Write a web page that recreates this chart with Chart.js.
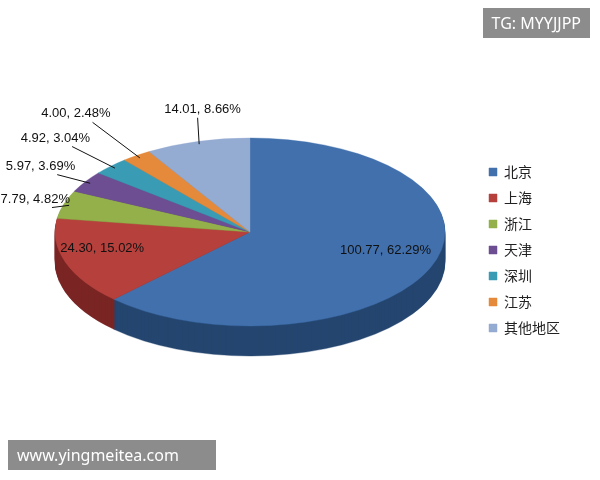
<!DOCTYPE html>
<html>
<head>
<meta charset="utf-8">
<script src="https://cdn.jsdelivr.net/npm/chart.js@4"></script>
<style>
  body { margin: 0; background: #fff; }
  #wrap { position: relative; width: 600px; height: 480px; }
  .mark { position: absolute; background: rgba(120,120,120,0.85); color: #fff;
          font-family: "Noto Sans", sans-serif; font-size: 16px; padding: 4px 9px; }
</style>
</head>
<body>
<div id="wrap">
  <canvas id="c" width="600" height="480"></canvas>
  <div class="mark" style="right:10px;top:8px;">TG: MYYJJPP</div>
  <div class="mark" style="left:8px;top:440px;width:190px;">www.yingmeitea.com</div>
</div>
<script>
const regions = ['北京', '上海', '浙江', '天津', '深圳', '江苏', '其他地区'];
const amounts = [100.77, 24.30, 7.79, 5.97, 4.92, 4.00, 14.01];
const shares = ['62.29%', '15.02%', '4.82%', '3.69%', '3.04%', '2.48%', '8.66%'];
const colors = ['#4170ad', '#b5403c', '#93b04b', '#6e4e92', '#3a9bb5', '#e5893a', '#94abd2'];
const sideColors = ['#24466f', '#7a2624', '#617a2c', '#47305f', '#236879', '#a65c1f', '#6179a0'];

// ellipse geometry of the tilted pie
const EX = 250, EY = 232, RX = 195, RY = 94, DEPTH = 30;

function setTransform(ctx, arc, dy) {
  const r = arc.outerRadius;
  ctx.translate(EX, EY + dy);
  ctx.scale(RX / r, RY / r);
  ctx.translate(-arc.x, -arc.y);
}

const tilt = {
  id: 'tilt',
  beforeDatasetsDraw(chart) {
    const ctx = chart.ctx;
    const arcs = chart.getDatasetMeta(0).data;
    for (let d = DEPTH; d >= 1; d--) {
      arcs.forEach((arc, i) => {
        const o = arc.options, bg = o.backgroundColor, bc = o.borderColor;
        o.backgroundColor = sideColors[i]; o.borderColor = sideColors[i];
        ctx.save();
        setTransform(ctx, arc, d);
        arc.draw(ctx);
        ctx.restore();
        o.backgroundColor = bg; o.borderColor = bc;
      });
    }
    ctx.save();
    setTransform(ctx, arcs[0], 0);
  },
  afterDatasetsDraw(chart) {
    chart.ctx.restore();
  },
  afterDraw(chart) {
    const ctx = chart.ctx;
    const arcs = chart.getDatasetMeta(0).data;
    ctx.save();
    ctx.font = '13px "Liberation Sans", "Noto Sans", sans-serif';
    ctx.fillStyle = '#111';
    ctx.strokeStyle = '#111';
    ctx.lineWidth = 1;
    arcs.forEach((arc, i) => {
      const a = (arc.startAngle + arc.endAngle) / 2;
      const text = amounts[i].toFixed(2) + ', ' + shares[i];
      const big = amounts[i] > 20;
      if (big) {
        const k = i === 0 ? 0.75 : 0.8;
        ctx.textAlign = 'center'; ctx.textBaseline = 'middle';
        ctx.fillText(text, EX + RX * Math.cos(a) * k, EY + RY * Math.sin(a) * k - 8);
        return;
      }
      const px = EX + RX * Math.cos(a) * 0.97, py = EY + RY * Math.sin(a) * 0.97;
      const k = i === 6 ? 1.35 : 1.18 + (i - 2) * 0.12;
      const lx = EX + RX * Math.cos(a) * (i === 6 ? 1 : k * 0.9), ly = EY + RY * Math.sin(a) * k;
      ctx.beginPath(); ctx.moveTo(px, py); ctx.lineTo(lx, ly + 8); ctx.stroke();
      ctx.textBaseline = 'bottom';
      ctx.textAlign = i === 6 ? 'center' : 'right';
      ctx.fillText(text, i === 6 ? lx + 5 : lx + 18, ly + 6);
    });
    ctx.restore();
  }
};

new Chart(document.getElementById('c'), {
  type: 'pie',
  data: {
    labels: regions,
    datasets: [{ data: amounts, backgroundColor: colors, borderColor: colors, borderWidth: 0.5 }]
  },
  options: {
    responsive: false,
    animation: false,
    layout: { padding: { top: 60, bottom: 40, right: 30 } },
    plugins: {
      tooltip: { enabled: false },
      legend: {
        position: 'right',
        labels: {
          boxWidth: 8, boxHeight: 8, padding: 12, color: '#222',
          font: { size: 14, family: '"Noto Sans CJK SC", sans-serif' }
        }
      }
    }
  },
  plugins: [tilt]
});
</script>
</body>
</html>
